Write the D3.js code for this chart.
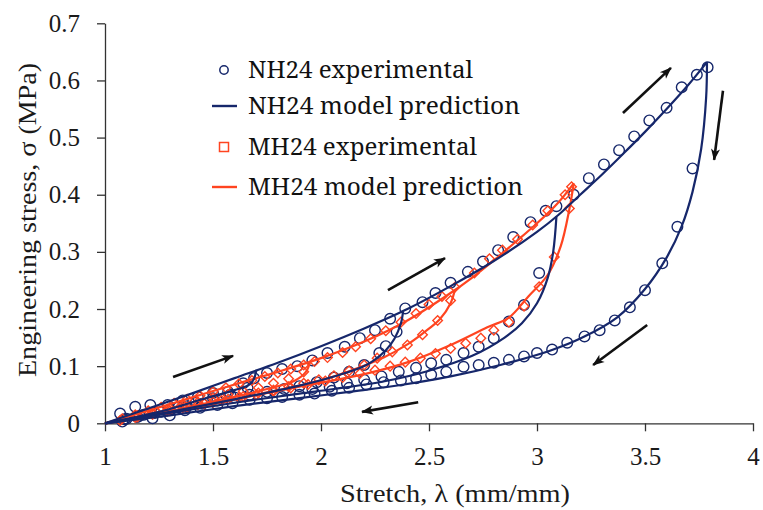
<!DOCTYPE html>
<html>
<head>
<meta charset="utf-8">
<script src="https://cdn.jsdelivr.net/npm/d3@7"></script>
<style>
  body { margin: 0; background: #fff; }
  svg { display: block; }
</style>
</head>
<body>
<svg id="chart"></svg>
<script>
// 1. Axis ticks
const xTicks = [1, 1.5, 2, 2.5, 3, 3.5, 4];
const yTicks = [0, 0.1, 0.2, 0.3, 0.4, 0.5, 0.6, 0.7];

// 2. NH24 model prediction: loading envelope + unloading branches [stretch, stress]
const nhLoading = [[1,0],[1.2,0.026],[1.4,0.052],[1.6,0.079],[1.8,0.106],[2.0,0.135],[2.2,0.166],[2.4,0.2],[2.6,0.24],[2.8,0.284],[3.0,0.335],[3.1,0.365],[3.2,0.4],[3.3,0.435],[3.4,0.472],[3.5,0.51],[3.6,0.55],[3.7,0.592],[3.787,0.632]];
const nhUnload1 = [[1.7,0.092],[1.69,0.078],[1.67,0.068],[1.6,0.058],[1.45,0.042],[1.25,0.02],[1,0]];
const nhUnload2 = [[2.38,0.196],[2.37,0.175],[2.34,0.148],[2.3,0.128],[2.21,0.102],[2.06,0.082],[1.9,0.066],[1.6,0.042],[1.3,0.02],[1,0]];
const nhUnload3 = [[3.09,0.362],[3.075,0.3],[3.05,0.255],[3.0,0.21],[2.93,0.175],[2.85,0.15],[2.7,0.118],[2.5,0.092],[2.3,0.074],[2.06,0.06],[1.9,0.052],[1.6,0.036],[1.3,0.018],[1,0]];
const nhUnload4 = [[3.787,0.632],[3.783,0.57],[3.76,0.48],[3.72,0.405],[3.67,0.345],[3.6,0.29],[3.5,0.235],[3.37,0.185],[3.21,0.15],[3.06,0.127],[2.83,0.102],[2.6,0.082],[2.37,0.067],[2.13,0.055],[1.9,0.044],[1.6,0.03],[1.3,0.014],[1,0]];

// 3. MH24 model prediction
const mhLoading = [[1,0],[1.2,0.022],[1.4,0.045],[1.6,0.068],[1.8,0.09],[2.0,0.114],[2.2,0.143],[2.4,0.18],[2.6,0.228],[2.7,0.255],[2.8,0.285],[2.9,0.317],[3.0,0.35],[3.1,0.387],[3.17,0.42]];
const mhUnload1 = [[1.95,0.108],[1.93,0.09],[1.88,0.075],[1.75,0.06],[1.5,0.038],[1.25,0.017],[1,0]];
const mhUnload2 = [[2.62,0.234],[2.6,0.21],[2.55,0.182],[2.47,0.157],[2.4,0.138],[2.29,0.115],[2.13,0.091],[1.98,0.073],[1.7,0.05],[1.4,0.026],[1,0]];
const mhUnload3 = [[3.17,0.42],[3.15,0.375],[3.11,0.31],[3.05,0.26],[2.96,0.222],[2.87,0.185],[2.77,0.168],[2.6,0.137],[2.41,0.108],[2.21,0.087],[1.9,0.064],[1.6,0.042],[1.3,0.02],[1,0]];

// 4. NH24 experimental points
const nhExp = [
  [1.07,0.017],[1.14,0.029],[1.21,0.032],[1.29,0.032],[1.36,0.04],[1.43,0.046],[1.5,0.053],[1.57,0.055],[1.64,0.07],[1.69,0.079],
  [1.75,0.088],[1.82,0.095],[1.89,0.1],[1.96,0.11],[2.03,0.123],[2.11,0.134],[2.18,0.149],[2.25,0.163],[2.32,0.183],[2.39,0.201],
  [2.47,0.212],[2.53,0.228],[2.6,0.246],[2.68,0.265],[2.75,0.283],[2.82,0.303],[2.89,0.326],[2.97,0.352],[3.04,0.372],[3.09,0.38],
  [3.17,0.4],[3.24,0.429],[3.31,0.453],[3.38,0.478],[3.45,0.502],[3.52,0.53],[3.6,0.552],[3.67,0.588],[3.74,0.61],[3.79,0.623],
  [3.72,0.446],[3.65,0.344],[3.58,0.28],[3.5,0.233],[3.43,0.203],[3.36,0.18],[3.29,0.163],[3.22,0.152],[3.14,0.141],[3.07,0.129],
  [3.0,0.123],[2.94,0.117],[2.87,0.111],[2.8,0.106],[2.73,0.102],[2.66,0.099],[2.58,0.09],[2.51,0.085],[2.44,0.079],[2.37,0.075],
  [2.29,0.072],[2.21,0.068],[2.13,0.062],[2.05,0.057],[1.97,0.052],[1.9,0.05],[1.82,0.046],[1.75,0.044],[1.67,0.041],[1.59,0.035],
  [1.52,0.032],[1.44,0.027],[1.37,0.023],[1.3,0.014],[1.22,0.009],[1.15,0.011],[1.08,0.003],
  [3.01,0.263],[2.94,0.207],[2.87,0.178],[2.8,0.149],[2.73,0.134],[2.66,0.123],[2.58,0.111],[2.51,0.105],[2.44,0.097],[2.36,0.09],
  [2.28,0.082],[2.2,0.076],[2.12,0.07],[2.04,0.064],[1.96,0.06],
  [2.35,0.16],[2.3,0.135],[2.27,0.123],[2.2,0.102],[2.13,0.09],[2.06,0.08],[1.98,0.072],[1.9,0.065],[1.83,0.06],[1.75,0.055],
  [1.67,0.05],[1.6,0.045],[1.52,0.04],[1.45,0.034],[1.38,0.03],[1.3,0.024],[1.23,0.018],[1.16,0.013],[1.09,0.007],
  [1.66,0.062],[1.58,0.05],[1.5,0.044],[1.42,0.036],[1.34,0.028],[1.26,0.02],[1.18,0.015],[1.1,0.008]
];

// 5. MH24 experimental points
const mhExp = [
  [1.08,0.008],[1.14,0.015],[1.2,0.022],[1.26,0.028],[1.32,0.035],[1.38,0.042],[1.44,0.048],[1.5,0.055],[1.56,0.062],[1.62,0.069],
  [1.68,0.075],[1.74,0.082],[1.8,0.088],[1.86,0.095],[1.92,0.102],[1.97,0.108],[2.03,0.115],[2.1,0.124],[2.16,0.134],[2.23,0.148],
  [2.3,0.162],[2.37,0.177],[2.44,0.192],[2.5,0.208],[2.56,0.222],[2.62,0.238],[2.71,0.263],[2.78,0.288],[2.84,0.303],[2.91,0.322],
  [2.98,0.347],[3.05,0.372],[3.13,0.4],[3.16,0.414],
  [3.15,0.376],[3.08,0.291],[3.01,0.239],[2.94,0.205],[2.87,0.177],[2.8,0.163],[2.74,0.149],[2.67,0.14],[2.6,0.131],[2.53,0.122],
  [2.46,0.114],[2.39,0.107],[2.32,0.1],[2.25,0.093],[2.18,0.087],[2.1,0.08],[2.02,0.074],[1.94,0.068],[1.86,0.062],[1.78,0.056],
  [1.7,0.05],[1.62,0.045],[1.54,0.04],[1.46,0.034],[1.38,0.028],[1.3,0.022],[1.22,0.016],[1.14,0.01],[1.07,0.005],
  [2.6,0.215],[2.54,0.18],[2.47,0.155],[2.4,0.137],[2.33,0.125],[2.26,0.114],[2.2,0.102],[2.13,0.092],[2.06,0.083],[1.99,0.076],
  [1.92,0.07],[1.85,0.064],[1.78,0.058],[1.71,0.053],[1.64,0.047],[1.57,0.042],[1.5,0.037],[1.43,0.032],[1.36,0.027],[1.29,0.021],
  [1.22,0.016],[1.15,0.011],
  [1.92,0.09],[1.85,0.078],[1.78,0.07],[1.71,0.062],[1.64,0.056],[1.57,0.05],[1.5,0.044],[1.43,0.037],[1.36,0.031],[1.29,0.025],
  [1.22,0.019],[1.15,0.013]
];

// 6. Direction arrows [start, end] in data units
const arrows = [
  [[1.315,0.081],[1.593,0.118]],
  [[2.31,0.233],[2.574,0.289]],
  [[3.398,0.543],[3.62,0.622]],
  [[3.861,0.582],[3.82,0.461]],
  [[3.51,0.172],[3.26,0.102]],
  [[2.45,0.037],[2.19,0.02]]
];

const legendItems = ["NH24 experimental", "NH24 model prediction", "MH24 experimental", "MH24 model prediction"];

// Setup
const width = 763, height = 510;
const navy = "#16276b";
const orange = "#ff4420";
const serif = "'Noto Serif', 'Liberation Serif', serif";
const tickFont = "'Liberation Serif', serif";

const svg = d3.select("#chart").attr("width", width).attr("height", height);

const x = d3.scaleLinear().domain([1, 4]).range([105, 753]);
const y = d3.scaleLinear().domain([0, 0.7]).range([423.3, 23.3]);

// Axes
const xAxis = svg.append("g")
    .attr("transform", `translate(0,${y(0)})`)
    .call(d3.axisBottom(x).tickValues(xTicks).tickFormat(d3.format("")).tickSize(8).tickSizeOuter(0).tickPadding(16));
const yAxis = svg.append("g")
    .attr("transform", `translate(${x(1)},0)`)
    .call(d3.axisLeft(y).tickValues(yTicks).tickFormat(d3.format("")).tickSize(8).tickSizeOuter(0).tickPadding(17));

[xAxis, yAxis].forEach(a => {
  a.select(".domain").attr("stroke", "#333").attr("stroke-width", 1.3);
  a.selectAll(".tick line").attr("stroke", "#333").attr("stroke-width", 1.3);
  a.selectAll(".tick text").attr("font-family", tickFont).attr("font-size", 25).attr("fill", "#1a1a1a");
});

// Axis titles
svg.append("text")
    .attr("x", 455).attr("y", 502)
    .attr("text-anchor", "middle")
    .attr("font-family", tickFont).attr("font-size", 26).attr("fill", "#1a1a1a")
    .attr("textLength", 230).attr("lengthAdjust", "spacingAndGlyphs")
    .text("Stretch, λ (mm/mm)");

svg.append("text")
    .attr("transform", "translate(36,220) rotate(-90)")
    .attr("text-anchor", "middle")
    .attr("font-family", tickFont).attr("font-size", 26).attr("fill", "#1a1a1a")
    .attr("textLength", 314).attr("lengthAdjust", "spacingAndGlyphs")
    .text("Engineering stress, σ  (MPa)");

// Experimental markers
const plot = svg.append("g");

plot.append("g").selectAll("circle")
    .data(nhExp)
    .enter().append("circle")
    .attr("cx", d => x(d[0])).attr("cy", d => y(d[1]))
    .attr("r", 5.3)
    .attr("fill", "none").attr("stroke", navy).attr("stroke-width", 1.4);

const diamond = d3.symbol().type(d3.symbolSquare).size(46);
plot.append("g").selectAll("path")
    .data(mhExp)
    .enter().append("path")
    .attr("d", diamond)
    .attr("transform", d => `translate(${x(d[0])},${y(d[1])}) rotate(45)`)
    .attr("fill", "none").attr("stroke", orange).attr("stroke-width", 1.4);

// Model lines
const line = d3.line()
    .x(d => x(d[0])).y(d => y(d[1]))
    .curve(d3.curveCatmullRom.alpha(0.5));

[mhLoading, mhUnload1, mhUnload2, mhUnload3].forEach(s => {
  plot.append("path").datum(s).attr("d", line)
      .attr("fill", "none").attr("stroke", orange).attr("stroke-width", 2.2);
});
[nhLoading, nhUnload1, nhUnload2, nhUnload3, nhUnload4].forEach(s => {
  plot.append("path").datum(s).attr("d", line)
      .attr("fill", "none").attr("stroke", navy).attr("stroke-width", 2.2);
});

// Arrows
svg.append("defs").append("marker")
    .attr("id", "head")
    .attr("viewBox", "-12 -6 14 12")
    .attr("refX", 0).attr("refY", 0)
    .attr("markerWidth", 14).attr("markerHeight", 12)
    .attr("markerUnits", "userSpaceOnUse")
    .attr("orient", "auto")
    .append("path")
    .attr("d", "M1,0 L-11,-4.5 L-8,0 L-11,4.5 Z")
    .attr("fill", "#111");

svg.append("g").selectAll("line")
    .data(arrows)
    .enter().append("line")
    .attr("x1", d => x(d[0][0])).attr("y1", d => y(d[0][1]))
    .attr("x2", d => x(d[1][0])).attr("y2", d => y(d[1][1]))
    .attr("stroke", "#111").attr("stroke-width", 2.6)
    .attr("marker-end", "url(#head)");

// Legend
const legendRows = [78, 114, 155, 195];
const legendWidths = [225, 272, 229, 275];
const legend = svg.append("g");

legendItems.forEach((label, i) => {
  const cy = legendRows[i] - 8;
  if (i === 0) {
    legend.append("circle").attr("cx", 224).attr("cy", cy).attr("r", 4.2)
        .attr("fill", "none").attr("stroke", navy).attr("stroke-width", 1.5);
  } else if (i === 2) {
    legend.append("rect").attr("x", 219.5).attr("y", cy - 4.5).attr("width", 9).attr("height", 9)
        .attr("fill", "none").attr("stroke", orange).attr("stroke-width", 1.5);
  } else {
    legend.append("line").attr("x1", 212).attr("x2", 237).attr("y1", cy).attr("y2", cy)
        .attr("stroke", i === 1 ? navy : orange).attr("stroke-width", 2.4);
  }
  legend.append("text")
      .attr("x", 248).attr("y", legendRows[i])
      .attr("font-family", serif).attr("font-size", 24).attr("fill", "#111")
      .attr("textLength", legendWidths[i]).attr("lengthAdjust", "spacingAndGlyphs")
      .text(label);
});
</script>
</body>
</html>
